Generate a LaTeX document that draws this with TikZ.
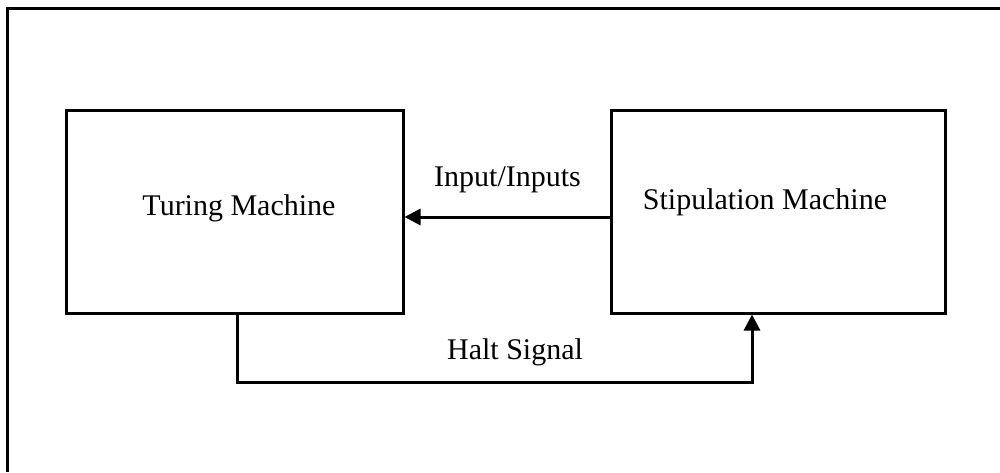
\documentclass[tikz,border=0pt]{standalone}
\usepackage{fontspec}
\setmainfont{Liberation Serif}
\usetikzlibrary{arrows.meta}
\begin{document}
\begin{tikzpicture}[x=0.75pt,y=-0.75pt,
  box/.style={draw=black,line width=2.25pt,minimum width=#1,minimum height=152.25pt,inner sep=0pt,anchor=center},
  lbl/.style={font=\fontsize{22.5}{27}\selectfont,inner sep=0pt,anchor=base},
  conn/.style={draw=black,line width=2.25pt},
  arr/.style={conn,-{Triangle[length=12pt,width=12pt]}},
  frame/.style={draw=black,line width=2.6pt}]
\useasboundingbox (0,0) rectangle (1000,472);
% frame
\coordinate (fbl) at (7.5,472);
\coordinate (ftl) at (7.5,8.5);
\coordinate (ftr) at (1000,8.5);
\draw[frame] (fbl) -- (ftl) -- (ftr);
% boxes
\node[box=252.75pt] (tm) at (234.5,211.5) {};
\node[box=250.5pt] (sm) at (778,211.5) {};
\node[lbl] (tmt) at (239,215) {Turing Machine};
\node[lbl] (smt) at (765,209) {Stipulation Machine};
% input arrow
\draw[arr] (sm.west |- 0,217) -- (tm.east |- 0,217);
\node[lbl] (inl) at (507.5,186) {Input/Inputs};
% halt signal
\coordinate (h1) at (237,382.5);
\coordinate (h2) at (752,382.5);
\draw[arr] (tm.south -| h1) -- (h1) -- (h2) -- (sm.south -| h2);
\node[lbl] (hl) at (515,359) {Halt Signal};
\end{tikzpicture}
\end{document}
